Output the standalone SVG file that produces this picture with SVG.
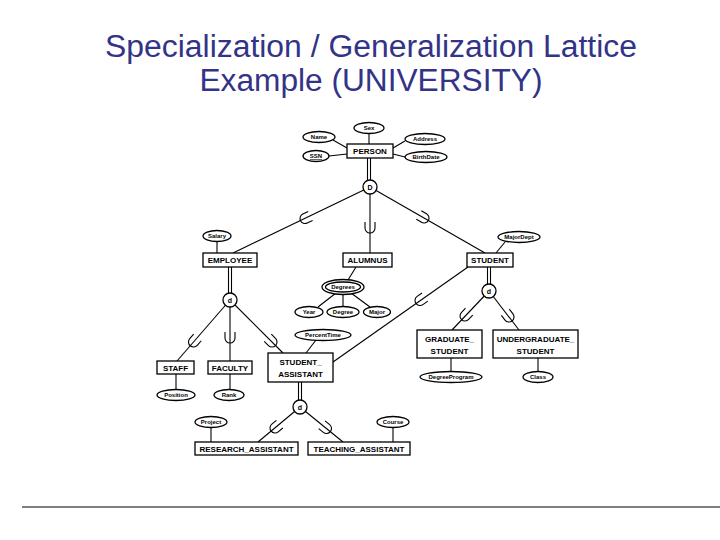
<svg xmlns="http://www.w3.org/2000/svg" xmlns:xlink="http://www.w3.org/1999/xlink" width="720" height="540" viewBox="0 0 720 540">
<style>
.ent{fill:#fff;stroke:#000;stroke-width:1.3}
.att{fill:#fff;stroke:#000;stroke-width:1.3}
.ln{stroke:#000;stroke-width:1.1;fill:none}
.cup{stroke:#000;stroke-width:1.1;fill:none}
.et{font-family:"Liberation Sans",Arial,sans-serif;font-weight:bold;font-size:8px;text-anchor:middle;fill:#000}
.at{font-family:"Liberation Sans",Arial,sans-serif;font-weight:bold;font-size:6px;text-anchor:middle;fill:#000}
.ct{font-family:"Liberation Sans",Arial,sans-serif;font-weight:bold;font-size:7px;text-anchor:middle;fill:#000}
.title{font-family:"Liberation Sans",Arial,sans-serif;font-size:31px;text-anchor:middle;fill:#333388}
</style>
<defs>
<path id="cup" d="M-5,-6 V0 A5,5 0 0 0 5,0 V-6"/>
</defs>
<rect width="720" height="540" fill="#fff"/>
<g id="title">
<text class="title" x="371" y="57" textLength="532" lengthAdjust="spacingAndGlyphs">Specialization / Generalization Lattice</text>
<text class="title" x="371" y="91" textLength="343" lengthAdjust="spacingAndGlyphs">Example (UNIVERSITY)</text>
</g>
<line x1="22" y1="507" x2="720" y2="507" stroke="#000" stroke-width="1"/>
<g id="connectors">
<line class="ln" x1="369" y1="133" x2="369" y2="144"/>
<line class="ln" x1="333" y1="140" x2="347" y2="148"/>
<line class="ln" x1="329" y1="156" x2="347" y2="154"/>
<line class="ln" x1="405" y1="141" x2="393" y2="148"/>
<line class="ln" x1="405" y1="157" x2="393" y2="154"/>
<line class="ln" x1="367.5" y1="158" x2="367.5" y2="180"/>
<line class="ln" x1="370.5" y1="158" x2="370.5" y2="180"/>
<line class="ln" x1="370" y1="187" x2="233" y2="253"/>
<line class="ln" x1="370" y1="187" x2="370" y2="253"/>
<line class="ln" x1="370" y1="187" x2="485" y2="253"/>
<use xlink:href="#cup" class="cup" transform="translate(305,218.5) rotate(64.3)"/>
<use xlink:href="#cup" class="cup" transform="translate(370,228)"/>
<use xlink:href="#cup" class="cup" transform="translate(424,218) rotate(-60.1)"/>
<line class="ln" x1="217" y1="241" x2="217" y2="253"/>
<line class="ln" x1="228.5" y1="267" x2="228.5" y2="293"/>
<line class="ln" x1="231.5" y1="267" x2="231.5" y2="293"/>
<line class="ln" x1="230" y1="300" x2="177" y2="361"/>
<line class="ln" x1="230" y1="300" x2="230" y2="361"/>
<line class="ln" x1="230" y1="300" x2="283" y2="353"/>
<use xlink:href="#cup" class="cup" transform="translate(193.5,342) rotate(41)"/>
<use xlink:href="#cup" class="cup" transform="translate(230,338)"/>
<use xlink:href="#cup" class="cup" transform="translate(272,342) rotate(-45)"/>
<line class="ln" x1="176" y1="374" x2="176" y2="390"/>
<line class="ln" x1="230" y1="374" x2="230" y2="390"/>
<line class="ln" x1="356" y1="267" x2="348" y2="280"/>
<line class="ln" x1="336" y1="293" x2="318" y2="307"/>
<line class="ln" x1="343" y1="294" x2="343" y2="306"/>
<line class="ln" x1="351" y1="293" x2="370" y2="307"/>
<line class="ln" x1="505" y1="242" x2="496" y2="253"/>
<line class="ln" x1="468" y1="267" x2="333" y2="362"/>
<use xlink:href="#cup" class="cup" transform="translate(420,300.5) rotate(54.6)"/>
<line class="ln" x1="487.5" y1="267" x2="487.5" y2="284"/>
<line class="ln" x1="490.5" y1="267" x2="490.5" y2="284"/>
<line class="ln" x1="489" y1="291" x2="452" y2="330"/>
<line class="ln" x1="489" y1="291" x2="519" y2="330"/>
<use xlink:href="#cup" class="cup" transform="translate(465,316) rotate(43.5)"/>
<use xlink:href="#cup" class="cup" transform="translate(509,317) rotate(-37.6)"/>
<line class="ln" x1="451" y1="358" x2="451" y2="371"/>
<line class="ln" x1="538" y1="358" x2="538" y2="371"/>
<line class="ln" x1="316" y1="340" x2="306" y2="353"/>
<line class="ln" x1="298.5" y1="382" x2="298.5" y2="400"/>
<line class="ln" x1="301.5" y1="382" x2="301.5" y2="400"/>
<line class="ln" x1="300" y1="407" x2="258" y2="442"/>
<line class="ln" x1="300" y1="407" x2="343" y2="442"/>
<use xlink:href="#cup" class="cup" transform="translate(275,428) rotate(50.2)"/>
<use xlink:href="#cup" class="cup" transform="translate(326.5,428.5) rotate(-50.9)"/>
<line class="ln" x1="211" y1="427" x2="211" y2="442"/>
<line class="ln" x1="393" y1="427" x2="393" y2="442"/>
</g>
<g id="PERSON"><rect class="ent" x="347" y="144" width="46" height="14"/><text class="et" x="370" y="154">PERSON</text></g>
<g id="attr-Sex"><ellipse class="att" cx="369" cy="128" rx="15" ry="5.5"/><text class="at" x="369" y="130.2">Sex</text></g>
<g id="attr-Name"><ellipse class="att" cx="319" cy="137" rx="16" ry="5.5"/><text class="at" x="319" y="139.2">Name</text></g>
<g id="attr-SSN"><ellipse class="att" cx="316" cy="156" rx="13" ry="5.5"/><text class="at" x="316" y="158.2" text-decoration="underline">SSN</text></g>
<g id="attr-Address"><ellipse class="att" cx="425" cy="139" rx="20" ry="5.5"/><text class="at" x="425" y="141.2">Address</text></g>
<g id="attr-BirthDate"><ellipse class="att" cx="426" cy="157" rx="21" ry="5.5"/><text class="at" x="426" y="159.2">BirthDate</text></g>
<g id="spec-D"><circle class="ent" cx="370" cy="187" r="7"/><text class="ct" x="370" y="189.5">D</text></g>
<g id="EMPLOYEE"><rect class="ent" x="203" y="253" width="54" height="14"/><text class="et" x="230" y="263">EMPLOYEE</text></g>
<g id="attr-Salary"><ellipse class="att" cx="217" cy="236" rx="14" ry="5.5"/><text class="at" x="217" y="238.2">Salary</text></g>
<g id="ALUMNUS"><rect class="ent" x="343" y="253" width="49" height="14"/><text class="et" x="367.5" y="263">ALUMNUS</text></g>
<g id="attr-Degrees"><ellipse class="att" cx="343" cy="287" rx="21" ry="7.5"/><ellipse class="att" cx="343" cy="287" rx="17.5" ry="5"/><text class="at" x="343" y="289.2">Degrees</text></g>
<g id="attr-Year"><ellipse class="att" cx="309" cy="312" rx="14" ry="5.5"/><text class="at" x="309" y="314.2">Year</text></g>
<g id="attr-Degree"><ellipse class="att" cx="343" cy="312" rx="16" ry="5.5"/><text class="at" x="343" y="314.2">Degree</text></g>
<g id="attr-Major"><ellipse class="att" cx="377" cy="312" rx="13.5" ry="5.5"/><text class="at" x="377" y="314.2">Major</text></g>
<g id="STUDENT"><rect class="ent" x="467" y="253" width="46" height="14"/><text class="et" x="490" y="263">STUDENT</text></g>
<g id="attr-MajorDept"><ellipse class="att" cx="519" cy="237" rx="21" ry="5.5"/><text class="at" x="519" y="239.2">MajorDept</text></g>
<g id="spec-d-employee"><circle class="ent" cx="230" cy="300" r="7"/><text class="ct" x="230" y="302.5">d</text></g>
<g id="STAFF"><rect class="ent" x="157" y="361" width="37" height="13"/><text class="et" x="175.5" y="370.5">STAFF</text></g>
<g id="FACULTY"><rect class="ent" x="208" y="361" width="44" height="13"/><text class="et" x="230" y="370.5">FACULTY</text></g>
<g id="attr-Position"><ellipse class="att" cx="176" cy="395" rx="19" ry="5.5"/><text class="at" x="176" y="397.2">Position</text></g>
<g id="attr-Rank"><ellipse class="att" cx="229" cy="395" rx="15" ry="5.5"/><text class="at" x="229" y="397.2">Rank</text></g>
<g id="attr-PercentTime"><ellipse class="att" cx="323" cy="335" rx="28" ry="5.5"/><text class="at" x="323" y="337.2">PercentTime</text></g>
<g id="STUDENT_ASSISTANT"><rect class="ent" x="268" y="353" width="65" height="29"/><text class="et" x="300.5" y="365">STUDENT_</text><text class="et" x="300.5" y="377">ASSISTANT</text></g>
<g id="spec-d-student"><circle class="ent" cx="489" cy="291" r="7"/><text class="ct" x="489" y="293.5">d</text></g>
<g id="GRADUATE_STUDENT"><rect class="ent" x="417" y="330" width="65" height="28"/><text class="et" x="449.5" y="342">GRADUATE_</text><text class="et" x="449.5" y="354">STUDENT</text></g>
<g id="UNDERGRADUATE_STUDENT"><rect class="ent" x="493" y="330" width="85" height="28"/><text class="et" x="535.5" y="342">UNDERGRADUATE_</text><text class="et" x="535.5" y="354">STUDENT</text></g>
<g id="attr-DegreeProgram"><ellipse class="att" cx="451" cy="377" rx="31" ry="5.5"/><text class="at" x="451" y="379.2">DegreeProgram</text></g>
<g id="attr-Class"><ellipse class="att" cx="538" cy="377" rx="15" ry="5.5"/><text class="at" x="538" y="379.2">Class</text></g>
<g id="spec-d-sa"><circle class="ent" cx="300" cy="407" r="7"/><text class="ct" x="300" y="409.5">d</text></g>
<g id="RESEARCH_ASSISTANT"><rect class="ent" x="195" y="442" width="103" height="13"/><text class="et" x="246.5" y="451.5">RESEARCH_ASSISTANT</text></g>
<g id="TEACHING_ASSISTANT"><rect class="ent" x="308" y="442" width="102" height="13"/><text class="et" x="359" y="451.5">TEACHING_ASSISTANT</text></g>
<g id="attr-Project"><ellipse class="att" cx="211" cy="422" rx="16" ry="5.5"/><text class="at" x="211" y="424.2">Project</text></g>
<g id="attr-Course"><ellipse class="att" cx="393" cy="422" rx="16" ry="5.5"/><text class="at" x="393" y="424.2">Course</text></g>
</svg>
